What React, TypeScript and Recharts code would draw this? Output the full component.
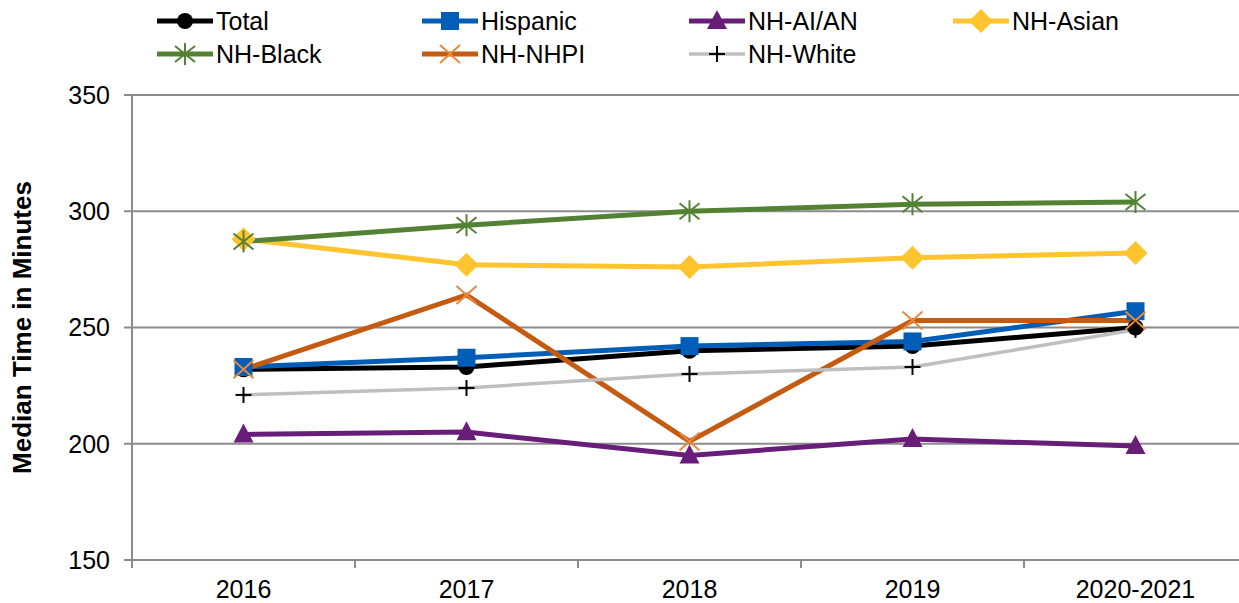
import { LineChart, Line, XAxis, YAxis, CartesianGrid } from 'recharts'

const years = ['2016', '2017', '2018', '2019', '2020-2021']
const total = [232, 233, 240, 242, 250]
const hispanic = [233, 237, 242, 244, 257]
const aian = [204, 205, 195, 202, 199]
const asian = [288, 277, 276, 280, 282]
const black = [287, 294, 300, 303, 304]
const nhpi = [232, 264, 201, 253, 253]
const white = [221, 224, 230, 233, 249]
const yTicks = [150, 200, 250, 300, 350]

const FONT = '"Liberation Sans", Arial, sans-serif'
const AXIS_GRAY = '#8c8c8c'

type Shape = 'circle' | 'square' | 'triangle' | 'diamond' | 'star' | 'x' | 'plus'

interface SeriesDef {
  key: string
  name: string
  values: number[]
  color: string
  width: number
  shape: Shape
  markerColor: string
}

const series: SeriesDef[] = [
  { key: 'total', name: 'Total', values: total, color: '#000000', width: 5, shape: 'circle', markerColor: '#000000' },
  { key: 'hispanic', name: 'Hispanic', values: hispanic, color: '#005EB8', width: 5, shape: 'square', markerColor: '#005EB8' },
  { key: 'aian', name: 'NH-AI/AN', values: aian, color: '#681E78', width: 5, shape: 'triangle', markerColor: '#681E78' },
  { key: 'asian', name: 'NH-Asian', values: asian, color: '#FFC42E', width: 5, shape: 'diamond', markerColor: '#FFC42E' },
  { key: 'black', name: 'NH-Black', values: black, color: '#548235', width: 5, shape: 'star', markerColor: '#548235' },
  { key: 'nhpi', name: 'NH-NHPI', values: nhpi, color: '#C55A11', width: 5, shape: 'x', markerColor: '#E8893B' },
  { key: 'white', name: 'NH-White', values: white, color: '#BFBFBF', width: 3.5, shape: 'plus', markerColor: '#000000' },
]

const chartData = years.map((year, i) => {
  const row: Record<string, string | number> = { year }
  series.forEach((s) => { row[s.key] = s.values[i] })
  return row
})

function marker(shape: Shape, color: string, cx: number, cy: number, key?: string | number) {
  switch (shape) {
    case 'circle':
      return <circle key={key} cx={cx} cy={cy} r={8} fill={color} />
    case 'square':
      return <rect key={key} x={cx - 9} y={cy - 9} width={18} height={18} fill={color} />
    case 'triangle':
      return <polygon key={key} points={`${cx},${cy - 11} ${cx + 10},${cy + 8} ${cx - 10},${cy + 8}`} fill={color} />
    case 'diamond':
      return <polygon key={key} points={`${cx},${cy - 12} ${cx + 12},${cy} ${cx},${cy + 12} ${cx - 12},${cy}`} fill={color} />
    case 'star':
      return (
        <g key={key} stroke={color} strokeWidth={2}>
          <line x1={cx} y1={cy - 11} x2={cx} y2={cy + 11} />
          <line x1={cx - 10} y1={cy - 8} x2={cx + 10} y2={cy + 8} />
          <line x1={cx - 10} y1={cy + 8} x2={cx + 10} y2={cy - 8} />
        </g>
      )
    case 'x':
      return (
        <g key={key} stroke={color} strokeWidth={2}>
          <line x1={cx - 10} y1={cy - 9} x2={cx + 10} y2={cy + 9} />
          <line x1={cx - 10} y1={cy + 9} x2={cx + 10} y2={cy - 9} />
        </g>
      )
    case 'plus':
      return (
        <g key={key} stroke={color} strokeWidth={2}>
          <line x1={cx} y1={cy - 8} x2={cx} y2={cy + 8} />
          <line x1={cx - 8} y1={cy} x2={cx + 8} y2={cy} />
        </g>
      )
  }
}

function makeDot(s: SeriesDef) {
  return (props: any) => {
    const { cx, cy, index } = props
    if (cx == null || cy == null) return <g key={index} />
    return marker(s.shape, s.markerColor, cx, cy, `${s.key}-${index}`)
  }
}

// category labels with Excel-style tick marks between categories
function XTick(props: any) {
  const { x, y, payload } = props
  const half = payload?.offset || 111.5
  return (
    <g>
      <line x1={x - half} y1={y} x2={x - half} y2={y + 8} stroke={AXIS_GRAY} strokeWidth={2} />
      <line x1={x + half} y1={y} x2={x + half} y2={y + 8} stroke={AXIS_GRAY} strokeWidth={2} />
      <text x={x} y={y + 38} textAnchor="middle" fontSize={25} fill="#000" fontFamily={FONT}>
        {payload.value}
      </text>
    </g>
  )
}

const legendCols = [156, 421, 688, 952]

function LegendBox() {
  return (
    <>
      {series.map((s, i) => {
        const left = legendCols[i % 4]
        const top = i < 4 ? 21 : 54
        return (
          <div
            key={s.key}
            style={{ position: 'absolute', left, top: top - 15, height: 30, display: 'flex', alignItems: 'center', fontFamily: FONT, fontSize: 25, color: '#000', whiteSpace: 'nowrap' }}
          >
            <svg width={58} height={30} style={{ display: 'block' }}>
              <line x1={1} y1={15} x2={57} y2={15} stroke={s.color} strokeWidth={s.width} />
              {marker(s.shape, s.markerColor, 29, 15)}
            </svg>
            <span style={{ marginLeft: 2 }}>{s.name}</span>
          </div>
        )
      })}
    </>
  )
}

export default function App() {
  return (
    <div style={{ position: 'absolute', left: 0, top: 0, width: 1239, height: 603, background: '#fff', overflow: 'hidden' }}>
      <LineChart width={1239} height={603} data={chartData} margin={{ top: 95, right: -8, left: 0, bottom: 0 }}>
        <CartesianGrid vertical={false} stroke={AXIS_GRAY} strokeWidth={2} />
        <XAxis
          dataKey="year"
          scale="band"
          height={43}
          axisLine={{ stroke: AXIS_GRAY, strokeWidth: 2 }}
          tickLine={false}
          tickSize={0}
          tickMargin={0}
          interval={0}
          tick={<XTick />}
        />
        <YAxis
          width={132}
          domain={[150, 350]}
          ticks={yTicks}
          interval={0}
          axisLine={{ stroke: AXIS_GRAY, strokeWidth: 2 }}
          tickLine={{ stroke: AXIS_GRAY, strokeWidth: 2 }}
          tickSize={8}
          tickMargin={14}
          tick={{ fontSize: 25, fill: '#000', fontFamily: FONT }}
          label={{
            value: 'Median Time in Minutes',
            angle: -90,
            position: 'insideLeft',
            offset: 0,
            dx: 22,
            style: { fontSize: 26, fontWeight: 'bold', fill: '#000', fontFamily: FONT, textAnchor: 'middle' },
          }}
        />
        {series.map((s) => (
          <Line
            key={s.key}
            dataKey={s.key}
            name={s.name}
            type="linear"
            stroke={s.color}
            strokeWidth={s.width}
            dot={makeDot(s)}
            activeDot={false}
            isAnimationActive={false}
          />
        ))}
      </LineChart>
      <LegendBox />
    </div>
  )
}
